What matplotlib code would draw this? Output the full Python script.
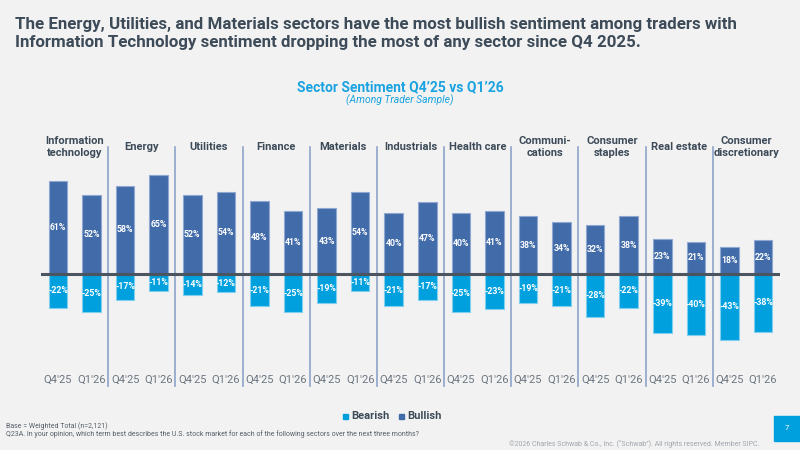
import matplotlib
matplotlib.use("Agg")
import matplotlib.pyplot as plt
from matplotlib.patches import Rectangle
from matplotlib import font_manager as fm

# ---- data ----
sectors = ["Information\ntechnology", "Energy", "Utilities", "Finance", "Materials",
           "Industrials", "Health care", "Communi-\ncations", "Consumer\nstaples",
           "Real estate", "Consumer\ndiscretionary"]
periods = ["Q4'25", "Q1'26"]
bullish = [61, 52, 58, 65, 52, 54, 48, 41, 43, 54, 40, 47, 40, 41, 38, 34, 32, 38, 23, 21, 18, 22]
bearish = [-22, -25, -17, -11, -14, -12, -21, -25, -19, -11, -21, -17, -25, -23, -19, -21, -28, -22, -39, -40, -43, -38]

# ---- styles ----
BG = "#F2F2F2"
BULL = "#416BA9"
BEAR = "#00A0DF"
TITLE = "#3D4B59"
SUB = "#1AA3E0"

avail = {f.name for f in fm.fontManager.ttflist}
narrow = "Liberation Sans Narrow" if "Liberation Sans Narrow" in avail else "Roboto"
plt.rcParams["font.family"] = [narrow, "DejaVu Sans"]

W, H = 800, 450
fig = plt.figure(figsize=(8, 4.5), dpi=100, facecolor=BG)

def px2fig(x, y):
    return x / W, 1 - y / H

# axes: x from px 41.2 to 779.8 ; y from px 130 to 390 (baseline at 274)
ax_l, ax_r = 41.2, 779.8
ax_t, ax_b = 130, 390
ax = fig.add_axes([ax_l / W, 1 - ax_b / H, (ax_r - ax_l) / W, (ax_b - ax_t) / H])
ax.set_facecolor(BG)
pxper = 1.525
ax.set_xlim(-0.5, len(bullish) - 0.5)
ax.set_ylim(-(ax_b - 274) / pxper, (274 - ax_t) / pxper)
ax.axis("off")

def ypx(p):
    return (274 - p) / pxper

x = list(range(len(bullish)))
ax.bar(x, bullish, width=0.55, color=BULL, edgecolor="#8FA8D2", linewidth=0.8, zorder=2)
ax.bar(x, bearish, width=0.55, color=BEAR, edgecolor="#80CFEF", linewidth=0.8, zorder=2)
ax.axhline(0, color="#4A5560", lw=2.2, zorder=3)

for i, (b, s) in enumerate(zip(bullish, bearish)):
    ax.text(i, b / 2, f"{b}%", ha="center", va="center", color="white",
            fontsize=6.3, fontweight="bold", zorder=4)
    ax.text(i, s / 2, f"{s}%", ha="center", va="center", color="white",
            fontsize=6.3, fontweight="bold", zorder=4)
    ax.text(i, ypx(380), periods[i % 2], ha="center", va="center", color="#6B7580",
            fontsize=8, clip_on=False)

for g, name in enumerate(sectors):
    ax.text(2 * g + 0.5, ypx(147), name, ha="center", va="center", color=TITLE,
            fontsize=8, fontweight="bold", linespacing=1.25, clip_on=False)
    if g > 0:
        ax.plot([2 * g - 0.5, 2 * g - 0.5], [ypx(147), ypx(386)], color="#8DA3C8",
                lw=1.2, zorder=1, clip_on=False)

# ---- titles ----
fig.text(*px2fig(15, 24), "The Energy, Utilities, and Materials sectors have the most bullish sentiment among traders with",
         ha="left", va="center", fontsize=12.2, fontweight="bold", color=TITLE)
fig.text(*px2fig(15, 43), "Information Technology sentiment dropping the most of any sector since Q4 2025.",
         ha="left", va="center", fontsize=12.2, fontweight="bold", color=TITLE)
fig.text(*px2fig(400, 87), "Sector Sentiment Q4\u201925 vs Q1\u201926", ha="center", va="center",
         fontsize=10, fontweight="bold", color=SUB)
fig.text(*px2fig(400, 100), "(Among Trader Sample)", ha="center", va="center",
         fontsize=7.5, style="italic", color=SUB)

# ---- legend ----
for sx, lab, col in [(343, "Bearish", BEAR), (399, "Bullish", BULL)]:
    fig.patches.append(Rectangle(px2fig(sx, 419), 5 / W, 5 / H, transform=fig.transFigure,
                                 color=col, figure=fig))
    fig.text(*px2fig(sx + 8, 416), lab, ha="left", va="center", fontsize=8,
             fontweight="bold", color=TITLE)

# ---- footnotes ----
fig.text(*px2fig(6, 426), "Base = Weighted Total (n=2,121)", ha="left", va="center",
         fontsize=5, color="#555F69")
fig.text(*px2fig(6, 434), "Q23A. In your opinion, which term best describes the U.S. stock market for each of the following sectors over the next three months?",
         ha="left", va="center", fontsize=5, color="#555F69")
fig.text(*px2fig(759, 444), "\u00a92026 Charles Schwab & Co., Inc. (\u201cSchwab\u201d). All rights reserved. Member SIPC.",
         ha="right", va="center", fontsize=5, color="#A0A6AC")
fig.patches.append(Rectangle(px2fig(774, 441), 26 / W, 25 / H, transform=fig.transFigure,
                             color=BEAR, figure=fig))
fig.text(*px2fig(787, 428), "7", ha="center", va="center", fontsize=5.5, color="white")

fig.savefig("out.png", dpi=100, facecolor=BG)
